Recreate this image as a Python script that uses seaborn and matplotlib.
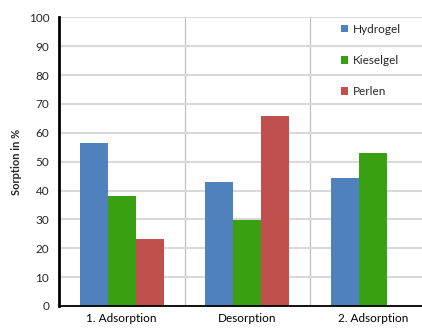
import matplotlib
matplotlib.use("Agg")
import matplotlib.pyplot as plt
import seaborn as sns
import pandas as pd
import numpy as np
from matplotlib.patches import Patch

phases = ["1. Adsorption", "Desorption", "2. Adsorption"]
materials = ["Hydrogel", "Kieselgel", "Perlen"]
hydrogel = [56.4, 43.0, 44.4]
kieselgel = [38.1, 29.7, 52.9]
perlen = [23.1, 65.8, np.nan]
colors = ["#4F81BD", "#38A012", "#C0504D"]

df = pd.DataFrame({
    "Phase": phases * 3,
    "Material": [m for m in materials for _ in phases],
    "Sorption": hydrogel + kieselgel + perlen,
})

sns.set_style("white")
plt.rcParams["font.family"] = ["Lato", "DejaVu Sans"]

fig = plt.figure(figsize=(4.22, 3.29), dpi=100)
ax = fig.add_axes([59 / 422, 23 / 329, 376.5 / 422, 288.7 / 329])

sns.barplot(data=df, x="Phase", y="Sorption", hue="Material",
            palette=colors, width=0.67, saturation=1, ax=ax,
            legend=False, linewidth=0)

ax.set_xlim(-0.5, 2.5)
ax.set_ylim(0, 100)
ax.set_yticks(range(0, 101, 10))
ax.yaxis.grid(True, color="#d9d9d9", linewidth=1.5)
ax.set_axisbelow(True)
for xb in [0.5, 1.5]:
    ax.axvline(xb, color="#c0c0c0", linewidth=0.9, zorder=0)

fs = 8.5
ax.set_xticks([0, 1, 2])
ax.set_xticklabels(phases)
ax.tick_params(axis="x", length=0, labelsize=fs, pad=5, colors="black")
ax.set_xticks([-0.5, 0.5, 1.5], minor=True)
ax.tick_params(axis="x", which="minor", length=4, width=1, color="#404040")
ax.tick_params(axis="y", length=4, width=1, color="#404040", labelsize=fs, pad=3)

for s in ["top", "right"]:
    ax.spines[s].set_visible(False)
ax.spines["left"].set_linewidth(2)
ax.spines["left"].set_color("black")
ax.spines["bottom"].set_linewidth(1.3)
ax.spines["bottom"].set_color("black")

ax.set_xlabel("")
ax.set_ylabel("Sorption in %", fontsize=8, fontweight="bold", labelpad=5)

handles = [Patch(facecolor=c, edgecolor="none") for c in colors]
ax.legend(handles, materials, loc="upper left",
          bbox_to_anchor=(336 / 422, 1 - 19 / 329), bbox_transform=fig.transFigure,
          frameon=False, fontsize=fs, handlelength=0.6, handleheight=0.6,
          handletextpad=0.45, labelspacing=1.72, borderaxespad=0)

fig.savefig("out.png", dpi=100)
